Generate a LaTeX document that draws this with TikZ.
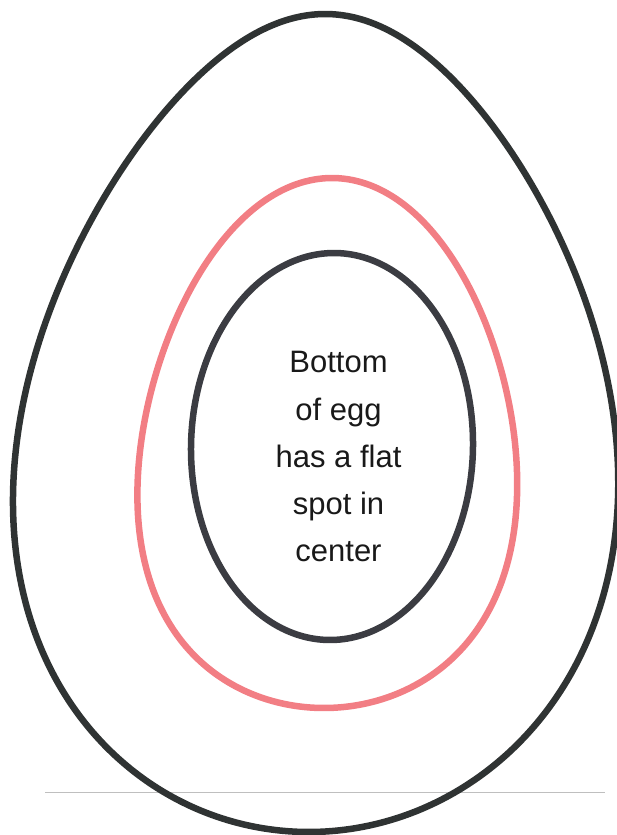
\documentclass[tikz,border=0pt]{standalone}
\usepackage{fontspec}
\setmainfont{Liberation Sans}
\definecolor{eggdark}{HTML}{2F3333}
\definecolor{innerdark}{HTML}{3B3C42}
\definecolor{eggred}{HTML}{F27E84}
\tikzset{
  eggline/.style={line width=6.5pt, line join=round},
  baseline rule/.style={draw=gray!50, line width=1pt},
}
\begin{document}
\begin{tikzpicture}[x=1pt,y=-1pt]
\useasboundingbox (0,0) rectangle (616,835);
% faint horizontal rule
\coordinate (rl) at (45,792);
\coordinate (rr) at (605,792);
\draw[baseline rule] (rl) -- (rr);
% outer egg
\draw[eggline, draw=eggdark] plot[domain=0:360, samples=240, smooth cycle]
  ({317 + 8.2*sin(\x) + 297.5*cos(\x)*(1 - 0.197*sin(\x) - 0.05*sin(\x)*sin(\x))}, {423 - 409*sin(\x)});
% red egg
\draw[eggline, draw=eggred] plot[domain=0:360, samples=240, smooth cycle]
  ({328 + 4*sin(\x) + 187*cos(\x)*(1 - 0.17*sin(\x) + 0.05*sin(\x)*sin(\x))}, {443 - 265*sin(\x)});
% inner egg
\draw[eggline, draw=innerdark] plot[domain=0:360, samples=240, smooth cycle]
  ({332 + 2*sin(\x) + 141*cos(\x)}, {446.5 - 193.5*sin(\x)});
% text
\node[font=\fontsize{31}{47.3}\selectfont, align=center, text=black!90, inner sep=0pt] (label) at (338.5,456.8)
  {Bottom\\of egg\\has a flat\\spot in\\center};
\end{tikzpicture}
\end{document}
